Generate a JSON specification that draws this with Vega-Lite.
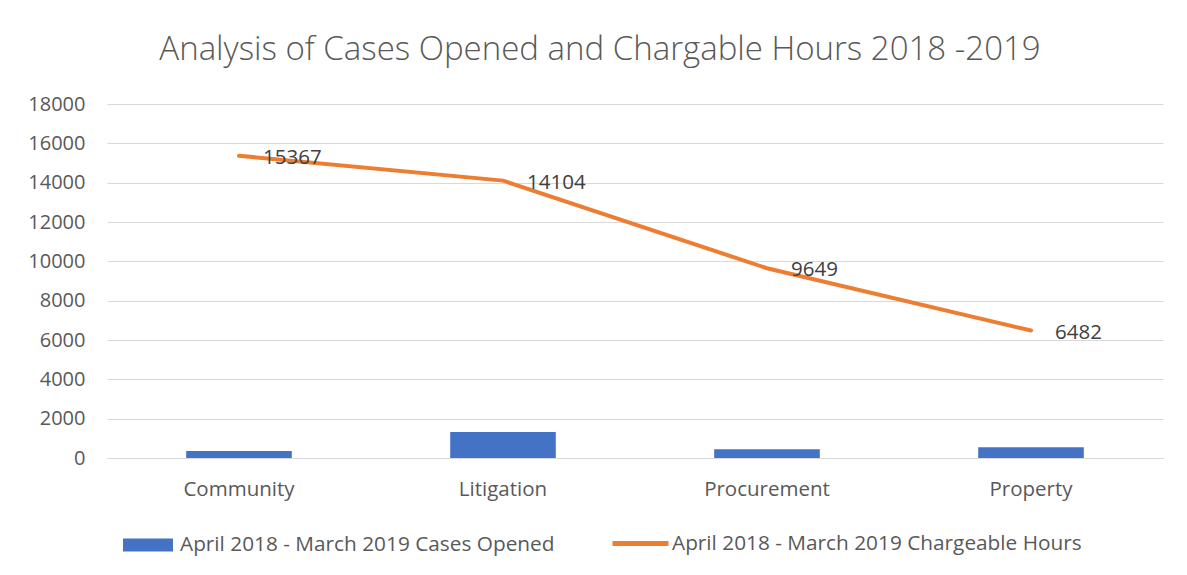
{
  "$schema": "https://vega.github.io/schema/vega-lite/v6.json",
  "autosize": "none",
  "width": 1056,
  "height": 354,
  "padding": {"left": 107, "top": 104, "right": 24, "bottom": 117},
  "background": "white",
  "config": {"view": {"stroke": null}},
  "title": {
    "text": "Analysis of Cases Opened and Chargable Hours 2018 -2019",
    "font": "Open Sans",
    "fontSize": 33,
    "fontWeight": 300,
    "color": "#595959",
    "anchor": "middle",
    "dx": -35,
    "offset": 27
  },
  "data": {
    "values": [
      {"category": "Community", "April 2018 - March 2019 Cases Opened": 360, "April 2018 - March 2019 Chargeable Hours": 15367},
      {"category": "Litigation", "April 2018 - March 2019 Cases Opened": 1320, "April 2018 - March 2019 Chargeable Hours": 14104},
      {"category": "Procurement", "April 2018 - March 2019 Cases Opened": 440, "April 2018 - March 2019 Chargeable Hours": 9649},
      {"category": "Property", "April 2018 - March 2019 Cases Opened": 545, "April 2018 - March 2019 Chargeable Hours": 6482}
    ]
  },
  "transform": [
    {"fold": ["April 2018 - March 2019 Cases Opened", "April 2018 - March 2019 Chargeable Hours"], "as": ["series", "value"]}
  ],
  "encoding": {
    "x": {
      "field": "category",
      "type": "nominal",
      "sort": null,
      "title": null,
      "scale": {"paddingInner": 0.6, "paddingOuter": 0.3},
      "axis": {
        "labelAngle": 0,
        "ticks": false,
        "domainColor": "#d9d9d9",
        "domainWidth": 1,
        "labelFont": "Open Sans",
        "labelFontSize": 20.5,
        "labelColor": "#595959",
        "labelPadding": 21,
        "grid": false
      }
    },
    "y": {
      "field": "value",
      "type": "quantitative",
      "title": null,
      "scale": {"domain": [0, 18000], "nice": false},
      "axis": {
        "values": [0, 2000, 4000, 6000, 8000, 10000, 12000, 14000, 16000, 18000],
        "format": "d",
        "domain": false,
        "ticks": false,
        "gridColor": "#d9d9d9",
        "labelFont": "Open Sans",
        "labelFontSize": 20,
        "labelColor": "#595959",
        "labelPadding": 22
      }
    }
  },
  "layer": [
    {
      "transform": [{"filter": "datum.series === 'April 2018 - March 2019 Cases Opened'"}],
      "mark": {"type": "bar"},
      "encoding": {
        "fill": {
          "field": "series",
          "type": "nominal",
          "scale": {"range": ["#4472C4"]},
          "legend": {
            "title": null,
            "orient": "none",
            "legendX": 16,
            "legendY": 416,
            "symbolType": "M-1,-0.26H1V0.26H-1Z",
            "symbolSize": 2500,
            "symbolStrokeWidth": 0,
            "labelFont": "Open Sans",
            "labelFontSize": 20.8,
            "labelColor": "#595959",
            "labelOffset": 7,
            "labelLimit": 600
          }
        }
      }
    },
    {
      "transform": [{"filter": "datum.series === 'April 2018 - March 2019 Chargeable Hours'"}],
      "mark": {"type": "line", "strokeWidth": 4, "strokeCap": "round"},
      "encoding": {
        "stroke": {
          "field": "series",
          "type": "nominal",
          "scale": {"range": ["#ED7D31"]},
          "legend": {
            "title": null,
            "orient": "none",
            "legendX": 503,
            "legendY": 409,
            "symbolType": "stroke",
            "symbolSize": 3136,
            "symbolStrokeWidth": 5,
            "labelFont": "Open Sans",
            "labelFontSize": 20.8,
            "labelColor": "#595959",
            "labelOffset": 1,
            "labelLimit": 600
          }
        }
      }
    },
    {
      "transform": [{"filter": "datum.series === 'April 2018 - March 2019 Chargeable Hours'"}],
      "mark": {"type": "text", "align": "left", "baseline": "middle", "dx": 24, "dy": 2, "font": "Open Sans", "fontSize": 20.5, "color": "#404040"},
      "encoding": {
        "text": {"field": "value", "type": "quantitative", "format": "d"}
      }
    }
  ]
}
